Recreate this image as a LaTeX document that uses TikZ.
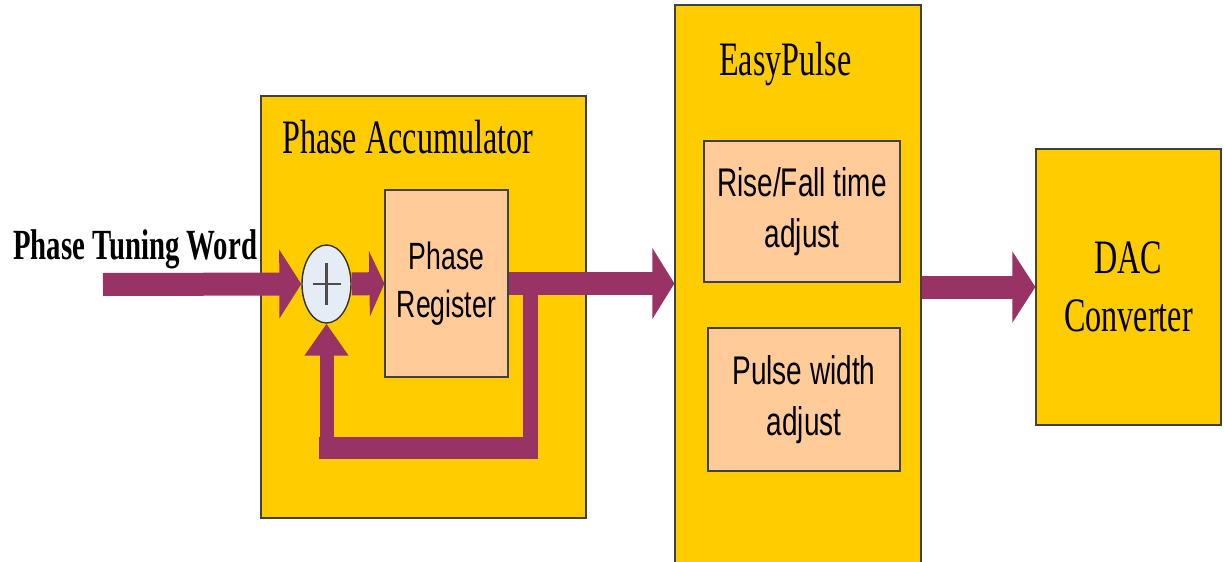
\documentclass[tikz,border=0pt]{standalone}
\usepackage{fontspec}
\setmainfont{Liberation Serif}[FakeStretch=0.67]
\setsansfont{Liberation Sans}[FakeStretch=0.70]
\usetikzlibrary{arrows.meta,shapes.geometric,positioning}
\definecolor{accyellow}{HTML}{FFCC00}
\definecolor{subpeach}{HTML}{FFCC99}
\definecolor{busred}{HTML}{993366}
\definecolor{sumblue}{HTML}{E6ECF6}

\tikzset{
  blk/.style={draw=black!75,line width=1.2pt,fill=accyellow,inner sep=0pt},
  subblk/.style={blk,fill=subpeach,align=center,font=\sffamily\fontsize{40pt}{51pt}\selectfont},
  bus/.style={draw=busred,line width=23pt,-{Triangle[length=22pt,width=68pt]}},
  title/.style={anchor=base west,inner sep=0pt,font=\fontsize{48pt}{58pt}\selectfont},
}

\begin{document}
\begin{tikzpicture}[x=1pt,y=-1pt]
\path[use as bounding box,clip] (0,0) rectangle (1224,562);

\node[blk,minimum width=325pt,minimum height=422pt] (acc) at (423.5,307) {};
\node[title] (acctitle) at (282,153) {Phase Accumulator};
\node[subblk,font=\sffamily\fontsize{38pt}{48pt}\selectfont,minimum width=123pt,minimum height=187pt] (reg) at (446.5,283.5) {Phase\\Register};
\node[ellipse,draw=black!80,line width=1.4pt,fill=sumblue,minimum width=49pt,minimum height=78pt,inner sep=0pt] (sum) at (326.5,284) {};
\draw[black!70,line width=2.8pt] (sum.center) ++(-14,0) -- ++(28,0);
\draw[black!70,line width=2.8pt] (sum.center) ++(0,-21) -- ++(0,42);

\node[blk,minimum width=246pt,minimum height=595pt] (ep) at (798,302.5) {};
\node[title] (eptitle) at (719,75) {EasyPulse};
\node[subblk,minimum width=196pt,minimum height=141pt] (rise) at (802,211.5) {Rise/Fall time\\adjust};
\node[subblk,minimum width=192pt,minimum height=143pt] (pw) at (804,399.5) {Pulse width\\adjust};
\node[blk,align=center,font=\fontsize{48pt}{58pt}\selectfont,minimum width=185pt,minimum height=276pt] (dac) at (1128.5,287) {DAC\\Converter};

\node[anchor=base west,inner sep=0pt,font=\bfseries\fontsize{43pt}{50pt}\selectfont] (ptw) at (13,259) {Phase Tuning Word};
\coordinate (ptwin) at (103,284.5);
\coordinate (tap) at (530.5,284);
\coordinate (fbl) at (sum.south |- 0,448);

\draw[bus] (ptwin) -- (sum.west);
\draw[bus,-{Triangle[length=15pt,width=65pt]}] (sum.east) -- (reg.west);
\draw[bus,-{Triangle[length=22pt,width=70pt]}] (reg.east) -- (reg.east -| ep.west);
\draw[bus,-{Triangle[length=23pt,width=70pt]}] (ep.east |- dac.west) -- (dac.west);

\draw[busred,line width=15pt] (tap) -- (tap |- 0,448);
\fill[busred] (319,437) rectangle (538,459);
\draw[busred,line width=14pt,-{Triangle[length=32pt,width=42pt]}] (fbl) -- (sum.south);

\end{tikzpicture}
\end{document}
